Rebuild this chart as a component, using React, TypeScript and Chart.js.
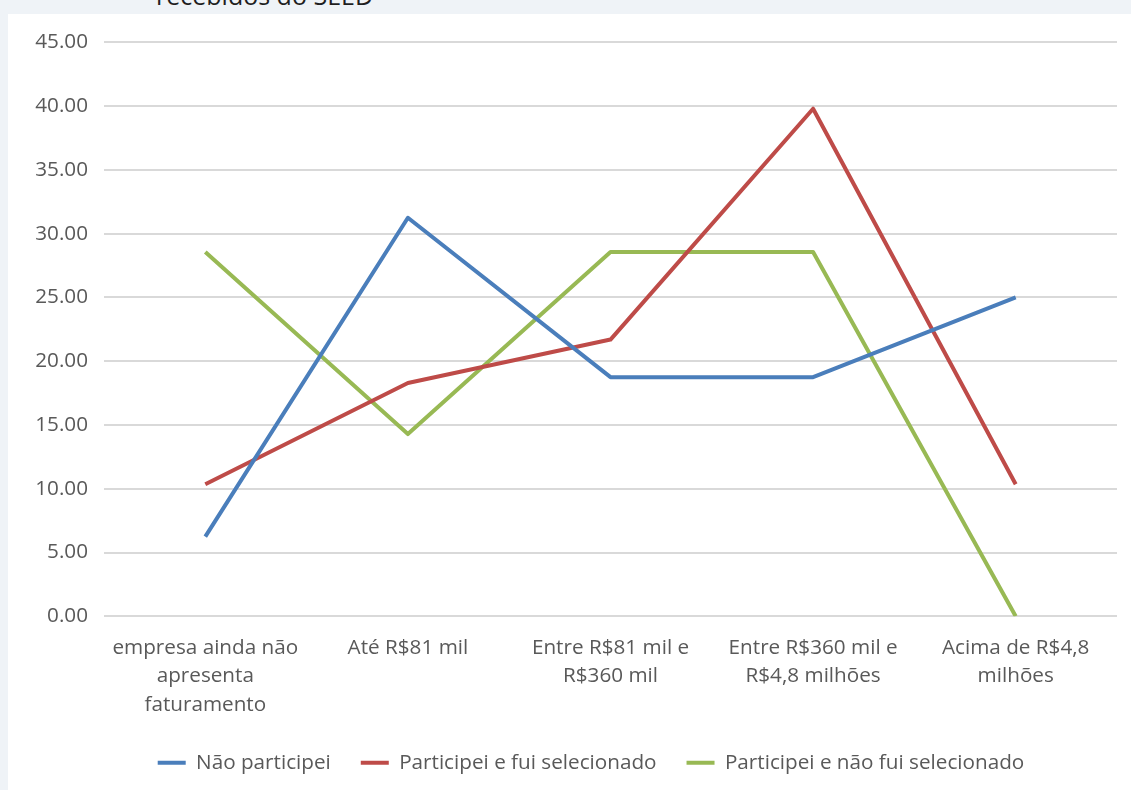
import React, { useEffect, useRef } from "react";
import { Chart, registerables } from "chart.js";

Chart.register(...registerables);

// Faixas de faturamento (eixo X), quebradas em linhas
const categories: string[][] = [
  ["empresa ainda não", "apresenta", "faturamento"],
  ["Até R$81 mil"],
  ["Entre R$81 mil e", "R$360 mil"],
  ["Entre R$360 mil e", "R$4,8 milhões"],
  ["Acima de R$4,8", "milhões"],
];

// Percentual de empresas em cada faixa, por grupo
const naoParticipei = [6.25, 31.25, 18.75, 18.75, 25.0];
const participeiSelecionado = [10.35, 18.3, 21.7, 39.8, 10.35];
const participeiNaoSelecionado = [28.57, 14.29, 28.57, 28.57, 0.0];

const seriesNames = [
  "Não participei",
  "Participei e fui selecionado",
  "Participei e não fui selecionado",
];
const seriesColors = ["#4a7ebb", "#be4b48", "#98b954"];

const yMin = 0;
const yMax = 45;
const yStep = 5;

const FONT = "'Open Sans', 'DejaVu Sans', sans-serif";
const FONT_SIZE = 20.7;
const TEXT_COLOR = "#595959";

// Desloca a legenda para a direita, centrando-a sob a área de plotagem
const legendShift = {
  id: "legendShift",
  afterLayout(chart: any) {
    const lg = chart.legend;
    if (!lg) return;
    const dx = 15;
    lg.left += dx;
    lg.right += dx;
  },
};

export default function App() {
  const canvasRef = useRef<HTMLCanvasElement | null>(null);

  useEffect(() => {
    const canvas = canvasRef.current;
    if (!canvas) return;
    const values = [naoParticipei, participeiSelecionado, participeiNaoSelecionado];

    const chart = new Chart(canvas, {
      type: "line",
      data: {
        labels: categories,
        datasets: values.map((v, i) => ({
          label: seriesNames[i],
          data: v,
          borderColor: seriesColors[i],
          backgroundColor: seriesColors[i],
          borderWidth: 4,
          pointRadius: 0,
          pointHoverRadius: 0,
          tension: 0,
          borderJoinStyle: "round" as const,
          fill: false,
        })),
      },
      plugins: [legendShift],
      options: {
        responsive: false,
        animation: false,
        layout: {
          padding: { left: 27, right: 14, top: 28, bottom: 7 },
        },
        plugins: {
          tooltip: { enabled: false },
          legend: {
            position: "bottom",
            align: "center",
            labels: {
              boxWidth: 28,
              boxHeight: 4,
              padding: 30,
              color: TEXT_COLOR,
              font: { family: FONT, size: FONT_SIZE },
              generateLabels: (c: any) => {
                const items = Chart.defaults.plugins.legend.labels.generateLabels(c);
                return items.map((it: any) => ({ ...it, lineWidth: 0, strokeStyle: "transparent" }));
              },
            },
          },
        },
        scales: {
          x: {
            offset: true,
            grid: { display: false },
            border: { display: false },
            ticks: {
              color: TEXT_COLOR,
              font: { family: FONT, size: FONT_SIZE, lineHeight: 1.36 },
              padding: 10,
              maxRotation: 0,
              autoSkip: false,
            },
            afterFit: (scale: any) => {
              scale.height = 106;
            },
          },
          y: {
            min: yMin,
            max: yMax,
            border: { display: false },
            grid: { color: "#d9d9d9", lineWidth: 2, drawTicks: false },
            ticks: {
              stepSize: yStep,
              color: TEXT_COLOR,
              font: { family: FONT, size: FONT_SIZE },
              padding: 16,
              callback: (v: any) => Number(v).toFixed(2),
            },
            afterFit: (scale: any) => {
              scale.width = 69;
            },
          },
        },
      },
    });

    return () => chart.destroy();
  }, []);

  return (
    <div
      style={{
        position: "fixed",
        left: 0,
        top: 0,
        width: 1131,
        height: 790,
        background: "#eff3f7",
        overflow: "hidden",
      }}
    >
      <div
        style={{
          position: "absolute",
          left: 156,
          top: -17,
          fontFamily: FONT,
          fontSize: 25,
          lineHeight: "25px",
          color: "#1f1f1f",
          whiteSpace: "nowrap",
        }}
      >
        recebidos do SEED
      </div>
      <div
        style={{
          position: "absolute",
          left: 8,
          top: 14,
          width: 1123,
          height: 776,
          background: "#ffffff",
        }}
      >
        <canvas ref={canvasRef} width={1123} height={776} style={{ display: "block" }} />
      </div>
    </div>
  );
}
